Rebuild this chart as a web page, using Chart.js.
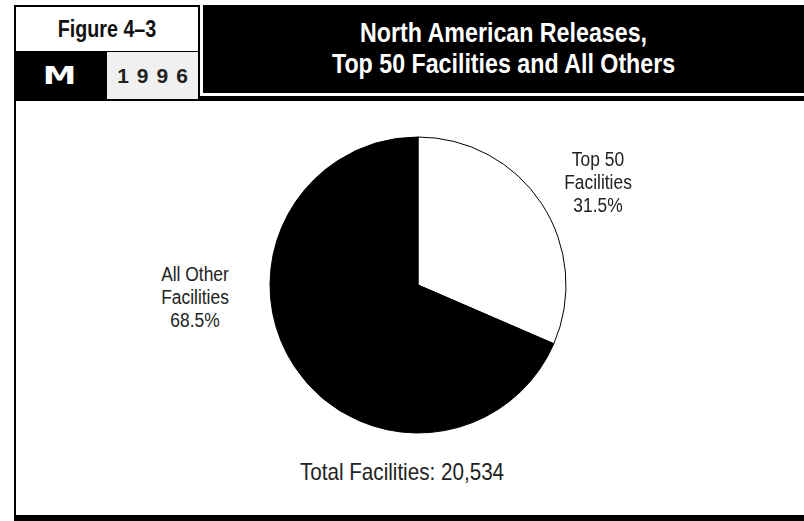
<!DOCTYPE html>
<html lang="en">
<head>
  <meta charset="UTF-8" />
  <title>North American Releases, Top 50 Facilities and All Others</title>
  <script src="https://cdn.jsdelivr.net/npm/chart.js"></script>
  <style>
    html, body { margin: 0; padding: 0; background: #fff; }
    body { width: 804px; height: 521px; position: relative; overflow: hidden;
           font-family: "Liberation Sans", Arial, sans-serif; }
    .abs { position: absolute; }
    .blk { background: #000; }
    .cnt { display: flex; align-items: center; justify-content: center; text-align: center; }
    .narrow { display: inline-block; transform: scaleX(0.85); white-space: nowrap; }
    .lbl { position: absolute; text-align: center; font-size: 20px; line-height: 23px; color: #222;
           transform: translateX(-50%) scaleX(0.87); white-space: nowrap; }
  </style>
</head>
<body>
  <!-- header -->
  <div class="abs blk" style="left:14px;top:5px;width:186px;height:96px"></div>
  <div class="abs cnt" style="left:16px;top:7px;width:182px;height:44px;background:#fff;font-weight:bold;font-size:24px;color:#111">
    <span class="narrow" style="transform:scaleX(0.82)">Figure 4–3</span>
  </div>
  <div class="abs cnt" style="left:16px;top:51px;width:86px;height:48px;color:#fff;font-family:'DejaVu Sans',sans-serif;font-weight:bold;font-size:25px">
    <span class="narrow" style="transform:scaleX(1.35)">M</span>
  </div>
  <div class="abs cnt" style="left:107px;top:52px;width:91px;height:47px;background:#f0f0f0;font-weight:bold;font-size:21px;color:#222">
    <span style="letter-spacing:8px;padding-left:8px">1996</span>
  </div>
  <div class="abs blk cnt" style="left:203px;top:5px;width:601px;height:88px;color:#fff;font-weight:bold;font-size:27px;line-height:31px">
    <span class="narrow" style="transform:scaleX(0.86)">North American Releases,<br>Top 50 Facilities and All Others</span>
  </div>
  <div class="abs blk" style="left:200px;top:96px;width:604px;height:5px"></div>

  <!-- body frame -->
  <div class="abs blk" style="left:14px;top:101px;width:2px;height:414px"></div>
  <div class="abs blk" style="left:14px;top:515px;width:790px;height:6px"></div>

  <!-- pie -->
  <div class="abs" style="left:268px;top:135px;width:300px;height:300px">
    <canvas id="pie"></canvas>
  </div>

  <div id="lblTop" class="lbl" style="left:598px;top:148px"></div>
  <div id="lblOther" class="lbl" style="left:195px;top:263px"></div>
  <div id="total" class="lbl" style="left:402px;top:459px;font-size:24px;line-height:26px;transform:translateX(-50%) scaleX(0.86)"></div>

  <script>
    const categories = ["Top 50 Facilities", "All Other Facilities"];
    const labelLines = [["Top 50", "Facilities"], ["All Other", "Facilities"]];
    const shares = [31.5, 68.5];
    const sliceColors = ["#ffffff", "#000000"];
    const totalFacilities = "20,534";

    new Chart(document.getElementById("pie"), {
      type: "pie",
      data: {
        labels: categories,
        datasets: [{
          data: shares,
          backgroundColor: sliceColors,
          borderColor: "#000",
          borderWidth: 1,
          radius: 148
        }]
      },
      options: {
        responsive: true,
        maintainAspectRatio: false,
        animation: false,
        layout: { padding: 0 },
        plugins: { legend: { display: false }, tooltip: { enabled: false } }
      }
    });

    // slice labels
    const ids = ["lblTop", "lblOther"];
    ids.forEach((id, i) => {
      document.getElementById(id).innerHTML =
        labelLines[i].join("<br>") + "<br>" + shares[i].toFixed(1) + "%";
    });
    document.getElementById("total").textContent = "Total Facilities: " + totalFacilities;
  </script>
</body>
</html>
